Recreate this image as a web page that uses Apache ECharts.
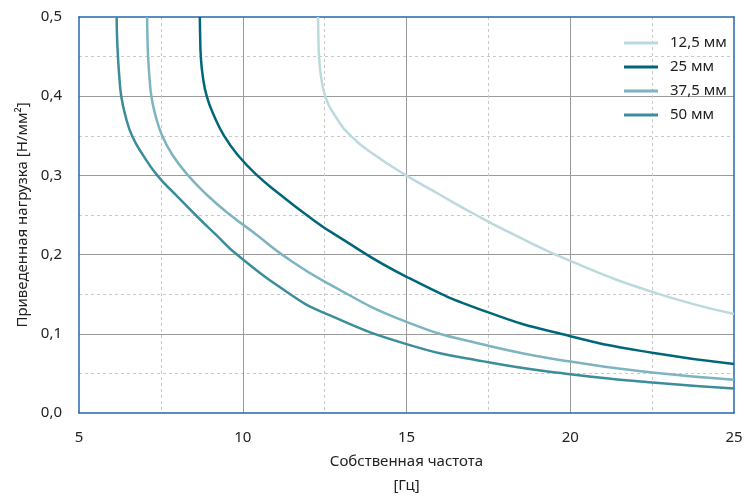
<!DOCTYPE html>
<html>
<head>
<meta charset="utf-8">
<script src="https://cdn.jsdelivr.net/npm/echarts@6/dist/echarts.min.js"></script>
<style>
html,body{margin:0;padding:0;background:#fff;}
#chart{width:746px;height:499px;}
</style>
</head>
<body>
<div id="chart"></div>
<script>
const seriesNames = ['12,5 мм', '25 мм', '37,5 мм', '50 мм'];
const colors = ['#bcd9df', '#00677a', '#7db4c0', '#3c8d9b'];

const s125 = [[12.30,0.5],[12.31,0.475],[12.33,0.45],[12.39,0.425],[12.52,0.4],[12.80,0.3765],[13.30,0.35],[14.02,0.326],[14.99,0.3],[16.02,0.2756],[17.12,0.25],[18.28,0.2252],[20,0.192],[22.5,0.153],[25,0.125]];
const s25 = [[8.69,0.5],[8.70,0.475],[8.72,0.45],[8.78,0.425],[8.90,0.4],[9.11,0.3765],[9.43,0.35],[9.84,0.326],[10.44,0.3],[11.15,0.2756],[11.95,0.25],[12.82,0.2252],[15,0.172],[17.5,0.127],[20,0.097],[22.5,0.076],[25,0.062]];
const s375 = [[7.08,0.5],[7.09,0.475],[7.11,0.45],[7.15,0.425],[7.21,0.4],[7.33,0.3765],[7.54,0.35],[7.85,0.326],[8.33,0.3],[8.90,0.2756],[9.62,0.25],[10.42,0.2252],[11.20,0.2],[12.5,0.166],[15,0.115],[17.5,0.085],[20,0.065],[22.5,0.051],[25,0.042]];
const s50 = [[6.15,0.5],[6.16,0.477],[6.19,0.45],[6.23,0.425],[6.29,0.4],[6.41,0.3765],[6.62,0.35],[6.95,0.326],[7.39,0.3],[7.95,0.2756],[8.56,0.25],[9.18,0.2252],[9.82,0.2],[11.45,0.15],[12.5,0.126],[15,0.087],[17.5,0.064],[20,0.049],[22.5,0.0385],[25,0.031]];

const xTicks = {min: 5, max: 25, interval: 5};
const yTicks = {min: 0, max: 0.5, interval: 0.1};

const FONT = '"Noto Sans", Lato, sans-serif';
const FS = 15;
const frameColor = '#2467a9';
const txt = '#222';

const chart = echarts.init(document.getElementById('chart'));
const allData = [s125, s25, s375, s50];

chart.setOption({
  animation: false,
  backgroundColor: '#fff',
  textStyle: {fontFamily: FONT},
  grid: {left: 79, right: 12, top: 17, bottom: 86, containLabel: false, outerBoundsMode: 'none'},
  legend: {
    orient: 'vertical',
    left: 619,
    top: 30,
    icon: 'rect',
    itemWidth: 34,
    itemHeight: 3,
    itemGap: 8,
    data: seriesNames,
    textStyle: {fontFamily: FONT, fontSize: FS, color: txt, lineHeight: 16, padding: [0, 0, 0, 7]}
  },
  xAxis: [{
    type: 'value',
    min: xTicks.min, max: xTicks.max, interval: xTicks.interval,
    name: 'Собственная частота\n[Гц]',
    nameLocation: 'middle',
    nameGap: 34,
    nameTextStyle: {fontFamily: FONT, fontSize: FS, color: txt, lineHeight: 24},
    axisLine: {show: true, onZero: false, lineStyle: {color: frameColor, width: 1.5}},
    axisTick: {show: false},
    axisLabel: {fontFamily: FONT, fontSize: FS, color: txt, margin: 17},
    splitLine: {show: true, showMinLine: false, showMaxLine: false, lineStyle: {color: '#9a9a9a', width: 1}},
    minorTick: {show: false, splitNumber: 2},
    minorSplitLine: {show: true, lineStyle: {color: '#c9c9c9', width: 1, type: [3, 3]}}
  }, {
    type: 'value', position: 'top',
    min: xTicks.min, max: xTicks.max, interval: xTicks.interval,
    axisLine: {show: true, onZero: false, lineStyle: {color: frameColor, width: 1.5}},
    axisTick: {show: false}, axisLabel: {show: false}, splitLine: {show: false}
  }],
  yAxis: [{
    type: 'value',
    min: yTicks.min, max: yTicks.max, interval: yTicks.interval,
    name: 'Приведенная нагрузка [Н/мм²]',
    nameLocation: 'middle',
    nameGap: 49,
    nameRotate: 90,
    nameTextStyle: {fontFamily: FONT, fontSize: FS, color: txt},
    axisLine: {show: true, onZero: false, lineStyle: {color: frameColor, width: 1.5}},
    axisTick: {show: false},
    axisLabel: {fontFamily: FONT, fontSize: FS, color: txt, margin: 17,
      formatter: v => v.toFixed(1).replace('.', ',')},
    splitLine: {show: true, showMinLine: false, showMaxLine: false, lineStyle: {color: '#9a9a9a', width: 1}},
    minorTick: {show: false, splitNumber: 2},
    minorSplitLine: {show: true, lineStyle: {color: '#c9c9c9', width: 1, type: [3, 3]}}
  }, {
    type: 'value', position: 'right',
    min: yTicks.min, max: yTicks.max, interval: yTicks.interval,
    axisLine: {show: true, onZero: false, lineStyle: {color: frameColor, width: 1.5}},
    axisTick: {show: false}, axisLabel: {show: false}, splitLine: {show: false}
  }],
  series: allData.map((d, i) => ({
    name: seriesNames[i],
    type: 'line',
    data: d,
    smooth: 0.5,
    symbol: 'none',
    clip: true,
    lineStyle: {color: colors[i], width: 2.5},
    itemStyle: {color: colors[i]},
    z: 3
  }))
});
</script>
</body>
</html>
